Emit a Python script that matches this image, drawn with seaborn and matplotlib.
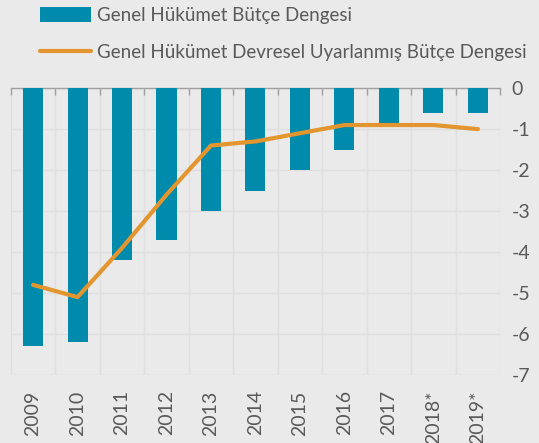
import numpy as np
import pandas as pd
import seaborn as sns
import matplotlib.pyplot as plt
from matplotlib.ticker import FixedLocator

years = ["2009", "2010", "2011", "2012", "2013", "2014", "2015", "2016", "2017", "2018*", "2019*"]
butce = [-6.3, -6.2, -4.2, -3.7, -3.0, -2.5, -2.0, -1.5, -0.9, -0.6, -0.6]
devresel = [-4.8, -5.1, -3.9, -2.6, -1.4, -1.3, -1.1, -0.9, -0.9, -0.9, -1.0]
yticks = [0, -1, -2, -3, -4, -5, -6, -7]

bg = "#EAEAEA"
grid_col = "#DFDFDF"
text_col = "#595959"
bar_col = "#008AAB"
line_col = "#E39530"

sns.set_style("white")
plt.rcParams["font.family"] = ["Lato", "DejaVu Sans"]

df = pd.DataFrame({"yil": years, "butce": butce, "devresel": devresel})

fig = plt.figure(figsize=(5.39, 4.43), dpi=100, facecolor=bg)
ax = fig.add_axes([0.02, 0.1535, 0.908, 0.6475])
ax.set_facecolor(bg)

sns.barplot(data=df, x="yil", y="butce", color=bar_col, width=0.45,
            saturation=1, linewidth=0, ax=ax,
            label="Genel Hükümet Bütçe Dengesi", zorder=3)
sns.pointplot(data=df, x="yil", y="devresel", color=line_col, markers="",
              linewidth=3, ax=ax,
              label="Genel Hükümet Devresel Uyarlanmış Bütçe Dengesi", zorder=4)

n = len(years)
ax.set_xlim(-0.5, n - 0.5)
ax.set_ylim(-7, 0)
ax.set_xlabel("")
ax.set_ylabel("")

# y axis on the right
ax.yaxis.tick_right()
ax.set_yticks(yticks)
ax.set_yticklabels([str(v) for v in yticks])
ax.tick_params(axis="y", length=0, labelsize=14, colors=text_col, pad=8)

# x labels rotated below, boundary ticks on top spine
ax.tick_params(axis="x", which="major", length=0, labelsize=14, colors=text_col,
               rotation=90, pad=11)
ax.xaxis.set_minor_locator(FixedLocator(np.arange(-0.5, n, 1.0)))
ax.tick_params(axis="x", which="minor", top=True, bottom=False, direction="in",
               length=5, color="#A0A0A0", width=1)

ax.grid(axis="y", which="major", color=grid_col, linewidth=1, zorder=0)
ax.grid(axis="x", which="minor", color=grid_col, linewidth=1, zorder=0)
ax.set_axisbelow(True)

for s in ["left", "right", "bottom"]:
    ax.spines[s].set_visible(False)
ax.spines["top"].set_color("#A0A0A0")
ax.spines["top"].set_linewidth(1)

handles, labels = ax.get_legend_handles_labels()
order = [labels.index("Genel Hükümet Bütçe Dengesi"),
         labels.index("Genel Hükümet Devresel Uyarlanmış Bütçe Dengesi")]
ax.legend([handles[i] for i in order], [labels[i] for i in order],
          loc="upper left", bbox_to_anchor=(0.074, 0.985),
          bbox_transform=fig.transFigure, frameon=False,
          fontsize=13.5, labelcolor=text_col, handlelength=2.7, handleheight=0.9,
          labelspacing=1.05, handletextpad=0.35, borderaxespad=0, borderpad=0)

fig.savefig("out.png", dpi=100, facecolor=bg)
